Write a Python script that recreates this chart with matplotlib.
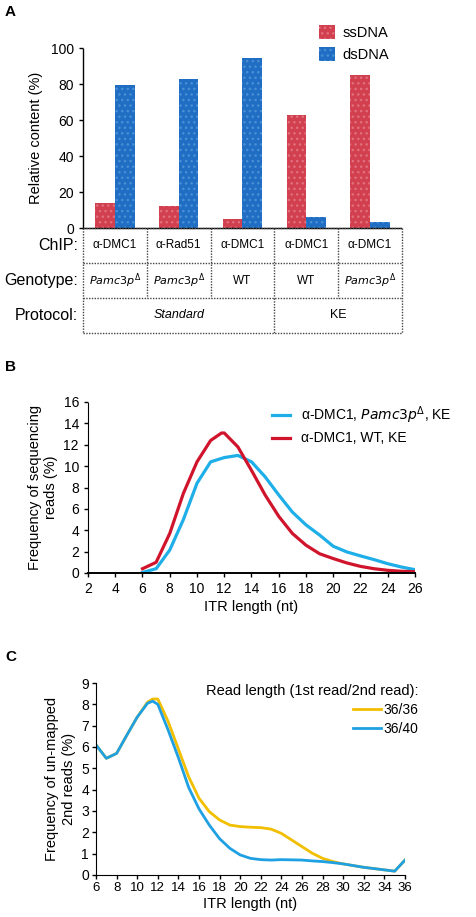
import matplotlib.pyplot as plt
import numpy as np

plt.rcParams['font.family'] = ['Liberation Sans', 'DejaVu Sans']

# Panel A data
chip = ['α-DMC1', 'α-Rad51', 'α-DMC1', 'α-DMC1', 'α-DMC1']
genotype = ['$\\it{Pamc3p}^{Δ}$', '$\\it{Pamc3p}^{Δ}$', 'WT', 'WT', '$\\it{Pamc3p}^{Δ}$']
protocol = ['Standard', 'KE']
protocol_span = [3, 2]
ssdna = [14, 12, 5, 63, 85]
dsdna = [79.5, 83, 94.5, 6, 3.3]

# Panel B data
b_len_wt = [6, 7, 8, 9, 10, 11, 11.8, 12, 13, 14, 15, 16, 17, 18, 19, 20, 21, 22, 23, 24, 25, 26]
b_wt = [0.4, 1.0, 3.7, 7.45, 10.4, 12.4, 13.1, 13.1, 11.8, 9.6, 7.3, 5.3, 3.7, 2.6, 1.8, 1.35, 0.94,
        0.62, 0.4, 0.25, 0.16, 0.12]
b_len_mut = [6, 7, 8, 9, 10, 11, 12, 13, 14, 15, 16, 17, 18, 19, 20, 21, 22, 23, 24, 25, 26]
b_mut = [0.05, 0.4, 2.15, 5.0, 8.4, 10.4, 10.8, 11.0, 10.4, 9.0, 7.3, 5.7, 4.5, 3.55, 2.5, 1.97,
         1.6, 1.25, 0.87, 0.56, 0.31]

# Panel C data
c_len = [6, 7, 8, 9, 10, 11, 11.5, 12, 13, 14, 15, 16, 17, 18, 19, 20, 21, 22, 23, 24, 25, 26,
         27, 28, 29, 30, 31, 32, 33, 34, 35, 36]
c_36_36 = [6.1, 5.47, 5.7, 6.56, 7.4, 8.1, 8.25, 8.25, 7.2, 5.9, 4.6, 3.6, 2.97, 2.58, 2.34, 2.27,
           2.24, 2.22, 2.15, 1.95, 1.64, 1.33, 1.02, 0.78, 0.63, 0.52, 0.44, 0.36, 0.3, 0.24, 0.18, 0.7]
c_36_40 = [6.1, 5.47, 5.7, 6.56, 7.4, 8.05, 8.15, 8.0, 6.8, 5.5, 4.1, 3.1, 2.34, 1.7, 1.25, 0.94,
           0.78, 0.72, 0.7, 0.72, 0.71, 0.7, 0.66, 0.63, 0.58, 0.52, 0.44, 0.36, 0.3, 0.24, 0.18, 0.7]

W, H = 477, 917
fig = plt.figure(figsize=(W / 100, H / 100), dpi=100)


def ax_px(left, top, right, bottom):
    return fig.add_axes([left / W, 1 - bottom / H, (right - left) / W, (bottom - top) / H])


dot = (0, (1, 1))

# ---------------- Panel A ----------------
ax = ax_px(83, 48, 402, 228)
x = np.arange(len(chip))
bw = 0.31
ax.bar(x - bw / 2, ssdna, bw, color='#d2404f', hatch='...', edgecolor='#e0707c', linewidth=0, label='ssDNA')
ax.bar(x + bw / 2, dsdna, bw, color='#1f6ec4', hatch='...', edgecolor='#4a8fd6', linewidth=0, label='dsDNA')
ax.set_xlim(-0.5, 4.5)
ax.set_ylim(0, 100)
ax.set_yticks(range(0, 101, 20))
ax.set_xticks([])
for s in ['top', 'right']:
    ax.spines[s].set_visible(False)
for s in ['left', 'bottom']:
    ax.spines[s].set_linestyle(dot)
    ax.spines[s].set_linewidth(1.0)
ax.tick_params(axis='y', labelsize=10, length=3, width=1)
ax.set_ylabel('Relative content (%)', fontsize=10.5, labelpad=6)
ax.legend(loc='upper left', bbox_to_anchor=(0.7, 1.2), frameon=False, fontsize=10.5,
          handlelength=1.1, handleheight=1.1, handletextpad=0.5, labelspacing=0.5)

# table below panel A
tb = ax_px(83, 228, 402, 333)
tb.set_xlim(-0.5, 4.5)
tb.set_ylim(3, 0)
tb.axis('off')
lc = '#444444'
for yy in [0, 1, 2, 3]:
    tb.plot([-0.5, 4.5], [yy, yy], color=lc, lw=1, ls=dot, clip_on=False)
tb.plot([-0.5, -0.5], [0, 3], color=lc, lw=1, ls=dot, clip_on=False)
tb.plot([4.5, 4.5], [0, 3], color=lc, lw=1, ls=dot, clip_on=False)
for xx in [0.5, 1.5, 2.5, 3.5]:
    tb.plot([xx, xx], [0, 2], color=lc, lw=1, ls=dot, clip_on=False)
tb.plot([2.5, 2.5], [2, 3], color=lc, lw=1, ls=dot, clip_on=False)
for i in range(len(chip)):
    tb.text(i, 0.5, chip[i], ha='center', va='center', fontsize=8.5)
    tb.text(i, 1.5, genotype[i], ha='center', va='center',
            fontsize=8 if genotype[i] != 'WT' else 8.5)
start = 0
for p, span in zip(protocol, protocol_span):
    tb.text(start + (span - 1) / 2, 2.5, p, ha='center', va='center', fontsize=9,
            style='italic' if p == 'Standard' else 'normal')
    start += span
for j, lab in enumerate(['ChIP:', 'Genotype:', 'Protocol:']):
    tb.text(-0.58, j + 0.5, lab, ha='right', va='center', fontsize=11.5)

fig.text(5 / W, 1 - 12 / H, 'A', fontsize=11, fontweight='bold', va='center')

# ---------------- Panel B ----------------
bx = ax_px(88, 402, 415, 573)
bx.plot(b_len_mut, b_mut, color='#1eaee8', lw=2.3, label='α-DMC1, $\\it{Pamc3p}^{Δ}$, KE')
bx.plot(b_len_wt, b_wt, color='#d0142c', lw=2.3, label='α-DMC1, WT, KE')
bx.set_xlim(2, 26)
bx.set_ylim(0, 16)
bx.set_xticks(range(2, 27, 2))
bx.set_yticks(range(0, 17, 2))
for s in ['top', 'right']:
    bx.spines[s].set_visible(False)
bx.spines['left'].set_linestyle(dot)
bx.spines['bottom'].set_linewidth(1.4)
bx.tick_params(labelsize=10, length=3, width=1)
bx.set_xlabel('ITR length (nt)', fontsize=10.5, labelpad=3)
bx.set_ylabel('Frequency of sequencing\nreads (%)', fontsize=10.5, labelpad=4)
bx.legend(loc='upper left', bbox_to_anchor=(0.525, 1.06), frameon=False, fontsize=10,
          handlelength=1.3, handletextpad=0.8, labelspacing=0.4)
fig.text(5 / W, 1 - 367 / H, 'B', fontsize=11, fontweight='bold', va='center')

# ---------------- Panel C ----------------
cx = ax_px(96, 683, 405, 875)
cx.plot(c_len, c_36_36, color='#f2bf00', lw=2.0, label='36/36')
cx.plot(c_len, c_36_40, color='#1ea0e2', lw=2.0, label='36/40')
cx.set_xlim(6, 36)
cx.set_ylim(0, 9)
cx.set_xticks(range(6, 37, 2))
cx.set_xticklabels([str(v) for v in range(6, 37, 2)])
cx.set_yticks(range(0, 10))
for s in ['top', 'right']:
    cx.spines[s].set_visible(False)
for s in ['left', 'bottom']:
    cx.spines[s].set_linestyle(dot)
cx.tick_params(labelsize=10, length=3, width=1, pad=2)
cx.tick_params(axis='x', labelsize=9.5)
cx.set_xlabel('ITR length (nt)', fontsize=10.5, labelpad=2)
cx.set_ylabel('Frequency of un-mapped\n2nd reads (%)', fontsize=10.5, labelpad=4)
cx.legend(loc='upper right', bbox_to_anchor=(1.085, 1.06), frameon=False, fontsize=10,
          title='Read length (1st read/2nd read):', title_fontsize=10.5,
          handlelength=2.0, handletextpad=0.2, labelspacing=0.35, alignment='right')
fig.text(5 / W, 1 - 657 / H, 'C', fontsize=11, fontweight='bold', va='center')

fig.savefig('out.png', dpi=100)
